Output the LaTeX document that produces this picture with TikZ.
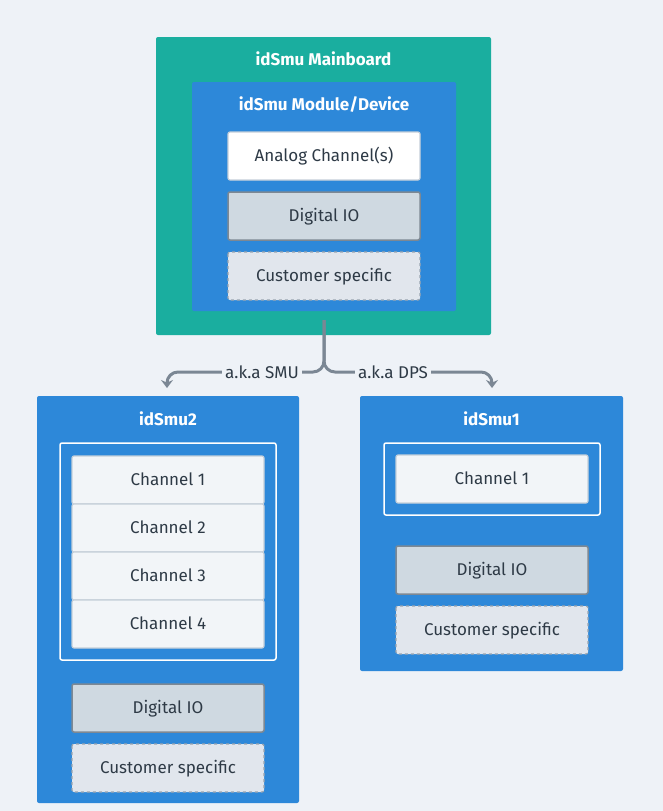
\documentclass[tikz,border=0pt]{standalone}
\usepackage{fontspec}
\setmainfont{Fira Sans}
\usetikzlibrary{arrows.meta}
\definecolor{bgc}{HTML}{EEF2F7}
\definecolor{teal}{HTML}{1AAE9F}
\definecolor{bluebox}{HTML}{2D88D9}
\definecolor{txt}{HTML}{2E3A46}
\definecolor{chfill}{HTML}{F2F5F8}
\definecolor{chline}{HTML}{C5CFD9}
\definecolor{diofill}{HTML}{CFD9E1}
\definecolor{dioline}{HTML}{7D8893}
\definecolor{csfill}{HTML}{E1E6ED}
\definecolor{csline}{HTML}{9AA5B1}
\definecolor{arrowc}{HTML}{7B8794}
\tikzset{
  box/.style={rounded corners=2pt, inner sep=0pt},
  captext/.style={text height=11.7pt, text depth=0pt, inner ysep=0pt},
  title/.style={captext, font=\fontsize{17}{19}\selectfont\bfseries, text=white},
  item/.style={captext, font=\fontsize{17}{19}\selectfont, text=txt},
  wire/.style={draw=arrowc, line width=3pt, rounded corners=11pt},
  lbl/.style={font=\fontsize{17}{19}\selectfont, text=txt, fill=bgc, inner xsep=3pt, inner ysep=1pt},
}
\begin{document}
\begin{tikzpicture}[x=1pt,y=-1pt]
\useasboundingbox (0,0) rectangle (663,811);
\fill[bgc] (0,0) rectangle (663,811);

% Mainboard
\fill[teal, box] (156,37) rectangle (491,335);
\node[title] (mbt) at (323.5,60) {idSmu Mainboard};
\fill[bluebox, box] (192,82) rectangle (456,311);
\node[title] (modt) at (324,105) {idSmu Module/Device};
\draw[fill=white, draw=chline, line width=1.2pt, box] (228,132) rectangle (420,180);
\node[item] (ac) at (324,156) {Analog Channel(s)};
\draw[fill=diofill, draw=dioline, line width=1.5pt, box] (228,192) rectangle (420,240);
\node[item] (dio0) at (324,216) {Digital IO};
\draw[fill=csfill, draw=csline, line width=1.2pt, dashed, box] (228,252) rectangle (420,300);
\node[item] (cs0) at (324,276) {Customer specific};

% Connectors
\coordinate (src) at (324,320);
\coordinate (lend) at (167,388);
\coordinate (rend) at (492,388);
\draw[wire, -{Stealth[length=8pt,width=12pt]}] (src) -- (324,372) -- (167,372) -- (lend);
\draw[wire, -{Stealth[length=8pt,width=12pt]}] (src) -- (324,372) -- (492,372) -- (rend);
\node[lbl] (smu) at (262,372) {a.k.a SMU};
\node[lbl] (dps) at (393,372) {a.k.a DPS};

% idSmu2
\fill[bluebox, box] (37,396) rectangle (299,803);
\node[title] (t2) at (168,420) {idSmu2};
\draw[draw=white, line width=1.5pt, box] (60,443) rectangle (276,660);
\foreach \i/\y in {1/456,2/504,3/552,4/600}{
  \draw[fill=chfill, draw=chline, line width=1.2pt, box] (72,\y) rectangle (264,\y+48);
  \node[item] (c2\i) at (168,\y+24) {Channel \i};
}
\draw[fill=diofill, draw=dioline, line width=1.5pt, box] (72,684) rectangle (264,732);
\node[item] (dio2) at (168,708) {Digital IO};
\draw[fill=csfill, draw=csline, line width=1.2pt, dashed, box] (72,744) rectangle (264,792);
\node[item] (cs2) at (168,768) {Customer specific};

% idSmu1
\fill[bluebox, box] (360,396) rectangle (623,671);
\node[title] (t1) at (491.5,420) {idSmu1};
\draw[draw=white, line width=1.5pt, box] (384,443) rectangle (600,515);
\draw[fill=chfill, draw=chline, line width=1.2pt, box] (396,455) rectangle (588,503);
\node[item] (c11) at (492,479) {Channel 1};
\draw[fill=diofill, draw=dioline, line width=1.5pt, box] (396,546) rectangle (588,594);
\node[item] (dio1) at (492,570) {Digital IO};
\draw[fill=csfill, draw=csline, line width=1.2pt, dashed, box] (396,606) rectangle (588,654);
\node[item] (cs1) at (492,630) {Customer specific};
\end{tikzpicture}
\end{document}
